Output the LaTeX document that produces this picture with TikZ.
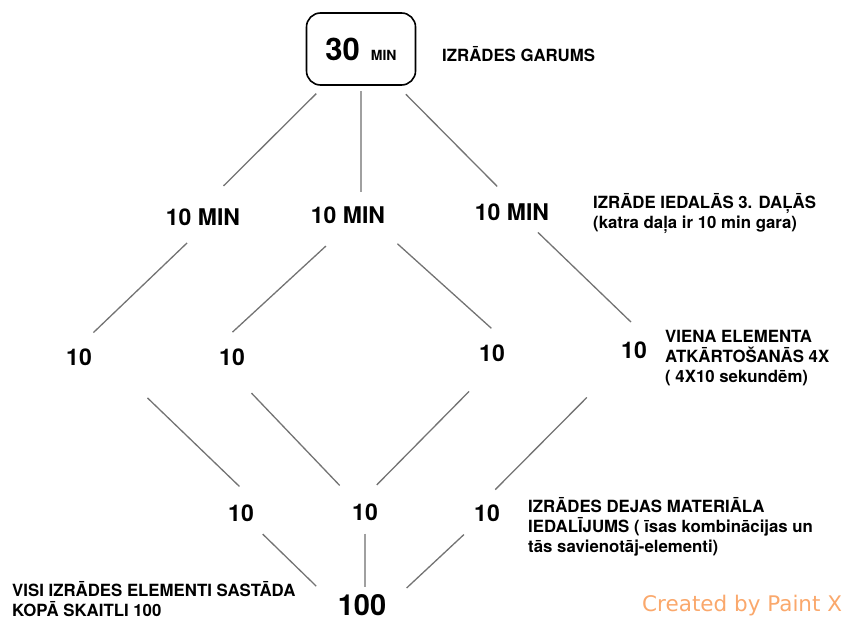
\documentclass[tikz,border=0pt]{standalone}
\usepackage{fontspec}
\setmainfont{TeX Gyre Heros}
\newfontfamily\wmfont{DejaVu Sans}
\usepackage{tikz}
\usetikzlibrary{positioning}
\definecolor{linegray}{RGB}{115,115,115}
\definecolor{stemgray}{RGB}{160,160,160}
\definecolor{wmorange}{RGB}{250,168,108}

\begin{document}
\begin{tikzpicture}[x=1pt,y=-1pt,
                    conn/.style={draw=linegray,line width=1.3pt},
                    stem/.style={draw=stemgray,line width=2.6pt},
                    big/.style={font=\bfseries\fontsize{23}{23}\selectfont,inner sep=2pt},
                    note/.style={font=\bfseries\fontsize{16.8}{20}\selectfont,align=left,anchor=base west,inner sep=0pt}]

\useasboundingbox (0,0) rectangle (850,620);

% top of the tree
\node[draw, rounded corners=14pt, line width=1.6pt, minimum width=109pt, minimum height=72pt] (top) at (361,49)
    {\bfseries{\fontsize{31}{31}\selectfont 30}\hspace{11pt}{\fontsize{14}{14}\selectfont MIN}};
\node[note] (gar) at (442,62) {IZRĀDES GARUMS};

% three parts (base of a note = its last line)
\node[big] (m1) at (203,217) {10 MIN};
\node[big] (m2) at (348,215) {10 MIN};
\node[big] (m3) at (512,212) {10 MIN};
\node[note] (dal) at (593,229) {IZRĀDE IEDALĀS 3. DAĻĀS\\(katra daļa ir 10 min gara)};

% repeats
\node[big] (n1) at (79,357) {10};
\node[big] (n2) at (232,357) {10};
\node[big] (n3) at (492,353) {10};
\node[big] (n4) at (634,350) {10};
\node[note] (atk) at (665,382) {VIENA ELEMENTA\\ATKĀRTOŠANĀS 4X\\( 4X10 sekundēm)};

% dance material
\node[big] (p1) at (241,513) {10};
\node[big] (p2) at (365,512) {10};
\node[big] (p3) at (487,513) {10};
\node[note] (mat) at (528,552) {IZRĀDES DEJAS MATERIĀLA\\IEDALĪJUMS ( īsas kombinācijas un\\tās savienotāj-elementi)};

% sum
\node[font=\bfseries\fontsize{29}{29}\selectfont, inner sep=2pt] (hund) at (362,605) {100};
\node[note] (visi) at (12,616) {VISI IZRĀDES ELEMENTI SASTĀDA\\KOPĀ SKAITLI 100};

\node[font=\wmfont\fontsize{21.5}{21.5}\selectfont, text=wmorange, anchor=base west, inner sep=0pt] (wm) at (642,611) {Created by Paint X};

\path[conn]
    (top) edge [shorten <=11pt, shorten >=29pt] (m1.north)
    (top.south) edge [stem, shorten <=5pt, shorten >=12pt] (top.south |- m2.north)
    (top) edge [shorten <=12pt, shorten >=21pt] (m3.north)
    (m1.south) edge [shorten <=22pt, shorten >=20pt] (n1.north)
    (m2.south) edge [shorten <=30pt, shorten >=21pt] (n2.north west)
    (m2.-20) edge [shorten <=27pt, shorten >=21pt] (n3.north east)
    (m3.-34) edge [shorten <=14pt, shorten >=25pt] (n4.north east)
    ([xshift=11pt]n1.east) edge [shorten <=59pt, shorten >=23pt] (p1.north east)
    (n2.west) edge [shorten <=50pt, shorten >=22pt] (p2)
    (n3.east) edge [shorten <=54pt, shorten >=38pt] (p2.west)
    (n4) edge [shorten <=52pt, shorten >=33pt] (p3.west)
    (p1) edge [shorten <=15pt, shorten >=27pt] (hund.west)
    (p2.south) edge [stem, shorten <=11pt, shorten >=5pt] (p2.south |- hund.north)
    (p3) edge [shorten <=16pt, shorten >=25pt] (hund.east)
    ;
\end{tikzpicture}
\end{document}
